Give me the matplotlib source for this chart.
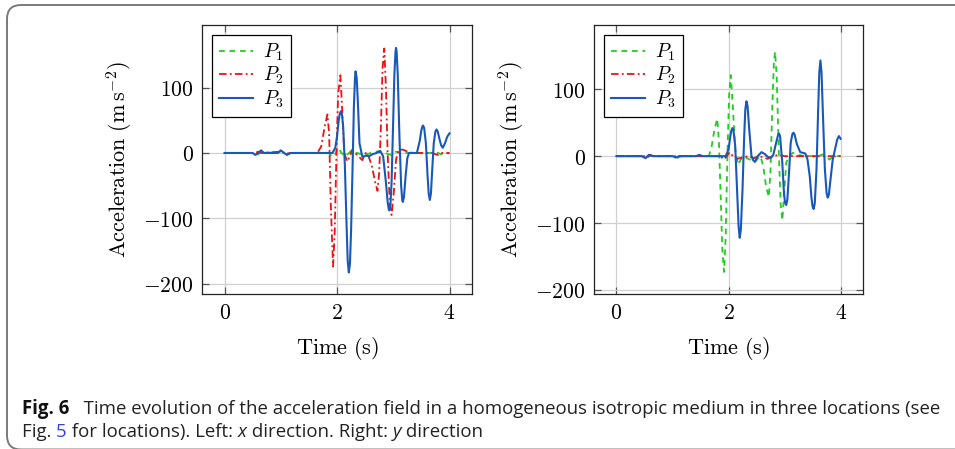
import matplotlib
matplotlib.use("Agg")
import matplotlib.pyplot as plt
from matplotlib.patches import FancyBboxPatch
from matplotlib.transforms import IdentityTransform

plt.rcParams['mathtext.fontset'] = 'cm'
plt.rcParams['font.family'] = ['DejaVu Serif']

# ---------------- data ----------------
# Left panel: x direction
tL_P1 = [0, 0.55, 0.6, 0.65, 0.7, 1.0, 1.1, 1.2, 1.85, 1.92, 1.98, 2.02, 2.08, 2.15, 2.25, 2.35,
         2.5, 2.6, 2.75, 2.85, 2.95, 3.05, 3.2, 3.8, 3.85, 4.0]
aL_P1 = [0, 0, -2, 2, 0, 2, -2, 0, 0, -6, 0, 8, 0, -5, 3, 0,
         -3, 0, 3, 0, -3, 2, 0, 0, -2, 0]

tL_P2 = [0, 0.55, 0.6, 0.65, 1.0, 1.1, 1.2, 1.65, 1.72, 1.78, 1.83, 1.86, 1.89, 1.93, 1.96, 1.99,
         2.02, 2.06, 2.09, 2.13, 2.18, 2.23, 2.27, 2.32, 2.38, 2.45, 2.51, 2.55, 2.62, 2.68, 2.72,
         2.75, 2.78, 2.81, 2.84, 2.87, 2.90, 2.94, 2.97, 3.01, 3.05, 3.10, 3.18, 3.25, 3.35, 3.7,
         3.75, 3.8, 3.85, 4.0]
aL_P2 = [0, 0, 2, 0, 2, -1, 0, 0, 10, 40, 59, 30, -80, -174, -120, 0,
         90, 119, 70, 0, -13, -5, 5, 0, -5, -11, 0, -2, -20, -45, -58,
         -30, 40, 130, 160, 100, 0, -80, -95, -60, -10, 5, 5, 2, 0, 0,
         -2, -3, 0, 0]

tL_P3 = [0, 0.50, 0.55, 0.60, 0.65, 0.70, 0.95, 1.00, 1.06, 1.11, 1.17, 1.92, 1.97, 2.00, 2.03,
         2.05, 2.07, 2.09, 2.11, 2.14, 2.17, 2.19, 2.21, 2.23, 2.25, 2.28, 2.30, 2.32, 2.33, 2.35,
         2.37, 2.40, 2.45, 2.51, 2.57, 2.63, 2.70, 2.77, 2.82, 2.87, 2.90, 2.92, 2.93, 2.95, 2.97,
         2.99, 3.02, 3.04, 3.05, 3.06, 3.08, 3.11, 3.14, 3.16, 3.17, 3.19, 3.22, 3.25, 3.28, 3.42,
         3.47, 3.50, 3.52, 3.53, 3.55, 3.58, 3.61, 3.63, 3.65, 3.67, 3.69, 3.72, 3.75, 3.77, 3.79,
         3.82, 3.85, 3.88, 3.92, 3.96, 4.0]
aL_P3 = [0, 0, -3, 0, 4, 0, 0, 4, 0, -3, 0, 0, 8, 25, 50,
         60, 64, 58, 40, -20, -110, -165, -183, -170, -120, -10, 70, 115, 125, 115,
         80, 15, -6, -4, -5, -2, 0, 3, -5, -45, -75, -86, -88, -80, -45,
         20, 120, 155, 161, 155, 120, 25, -50, -72, -75, -68, -35, -8, 0, 0,
         18, 35, 41, 42, 38, 15, -35, -62, -72, -62, -30, 15, 33, 36, 33,
         22, 12, 8, 15, 25, 30]

# Right panel: y direction
tR_P1 = [0, 0.45, 0.52, 0.6, 0.7, 1.0, 1.08, 1.15, 1.65, 1.70, 1.75, 1.80, 1.83, 1.86, 1.89,
         1.92, 1.95, 1.98, 2.01, 2.04, 2.08, 2.12, 2.17, 2.22, 2.27, 2.33, 2.40, 2.48, 2.53, 2.57,
         2.62, 2.67, 2.72, 2.75, 2.78, 2.81, 2.83, 2.86, 2.90, 2.93, 2.96, 2.99, 3.03, 3.08, 3.15,
         3.25, 3.35, 3.6, 3.7, 3.8, 3.88, 4.0]
aR_P1 = [0, 0, -3, 2, 0, 0, -3, 0, 0, 15, 40, 56, 20, -60, -140,
         -173, -120, 0, 90, 121, 70, 10, -13, -5, 0, -3, -6, -8, -3, 0,
         -15, -45, -61, -20, 70, 140, 156, 120, 0, -70, -96, -60, -10, 0, 5,
         2, 0, 0, 3, -5, 0, 0]

tR_P2 = [0, 0.5, 0.55, 0.6, 0.7, 1.85, 1.92, 1.97, 2.02, 2.08, 2.15, 2.25, 2.35, 2.45, 2.55,
         2.7, 2.8, 2.9, 3.0, 4.0]
aR_P2 = [0, 0, -2, 1, 0, 0, -5, 0, 6, 0, -4, -2, 0, -3, 0,
         -4, 0, 2, 0, 0]

tR_P3 = [0, 0.45, 0.52, 0.58, 0.65, 1.0, 1.06, 1.12, 1.42, 1.48, 1.54, 1.95, 2.0, 2.03, 2.05,
         2.07, 2.09, 2.12, 2.15, 2.18, 2.20, 2.22, 2.25, 2.28, 2.30, 2.32, 2.34, 2.37, 2.41, 2.44,
         2.47, 2.52, 2.59, 2.65, 2.70, 2.75, 2.80, 2.85, 2.88, 2.90, 2.92, 2.96, 2.99, 3.01, 3.03,
         3.05, 3.08, 3.11, 3.14, 3.16, 3.18, 3.22, 3.28, 3.37, 3.41, 3.45, 3.48, 3.50, 3.52, 3.54,
         3.57, 3.60, 3.62, 3.64, 3.66, 3.69, 3.72, 3.75, 3.77, 3.79, 3.82, 3.86, 3.90, 3.94, 3.97,
         4.0]
aR_P3 = [0, 0, -3, 2, 0, 0, -2, 0, 0, 2, 0, 0, 10, 28, 38,
         42, 38, 15, -45, -105, -122, -110, -50, 30, 70, 82, 75, 40, 0, -6,
         -8.5, 0, 6, 3, -1, -2.5, 2, 20, 30, 34, 30, -10, -55, -70, -73,
         -65, -25, 20, 33, 35, 32, 18, 6, 4, -5, -30, -62, -75, -79, -70,
         -20, 70, 125, 143, 125, 50, -20, -55, -62, -58, -35, -5, 10, 25, 30,
         26]

labels = [r'$P_1$', r'$P_2$', r'$P_3$']
x_ticks = [0, 2, 4]
y_ticks = [-200, -100, 0, 100]

c_green = '#22cc22'
c_red = '#ee1111'
c_blue = '#1858b8'

W, H = 955, 449
fig = plt.figure(figsize=(W / 100, H / 100), dpi=100)

# frame around figure (rounded corners, pixel coordinates)
frame = FancyBboxPatch((7, -0.5), 1100, H - 5 + 0.5,
                       boxstyle="round,pad=0,rounding_size=14",
                       transform=IdentityTransform(), fill=False,
                       edgecolor='#7a7a7a', linewidth=1.4)
fig.patches.append(frame)

def make_ax(rect, series, ylim):
    ax = fig.add_axes(rect)
    styles = [dict(color=c_green, ls=(0, (3.2, 2.6)), lw=1.3),
              dict(color=c_red, ls=(0, (4.2, 1.8, 1.0, 1.8)), lw=1.3),
              dict(color=c_blue, ls='-', lw=1.5)]
    for (t, a), st, lab in zip(series, styles, labels):
        ax.plot(t, a, label=lab, **st)
    ax.set_xlim(-0.4, 4.4)
    ax.set_ylim(*ylim)
    ax.set_xticks(x_ticks)
    ax.set_yticks(y_ticks)
    ax.set_xticklabels([f'${v}$' for v in x_ticks], fontsize=15.5)
    ax.set_yticklabels([f'${v}$' if v >= 0 else f'$-{-v}$' for v in y_ticks], fontsize=15.5)
    ax.grid(True, color='#d0d0d0', lw=0.9)
    ax.set_axisbelow(True)
    ax.tick_params(direction='in', length=5, width=0.9, color='#555555',
                   top=True, right=True, pad=6)
    for s in ax.spines.values():
        s.set_linewidth(0.9)
        s.set_color('#222222')
    ax.set_xlabel(r'$\mathrm{Time\ (s)}$', fontsize=16, labelpad=8)
    ax.set_ylabel(r'$\mathrm{Acceleration\ (m\,s^{-2})}$', fontsize=16, labelpad=6)
    leg = ax.legend(loc='upper left', fontsize=14, frameon=True, fancybox=False,
                    edgecolor='black', framealpha=1, handlelength=1.75,
                    handletextpad=0.55, labelspacing=0.12, borderpad=0.35,
                    borderaxespad=0.5)
    leg.get_frame().set_linewidth(0.9)
    return ax

axL = make_ax([202 / W, (H - 294) / H, 270 / W, 269 / H],
              [(tL_P1, aL_P1), (tL_P2, aL_P2), (tL_P3, aL_P3)], (-216, 196))
axR = make_ax([594 / W, (H - 294) / H, 269 / W, 269 / H],
              [(tR_P1, aR_P1), (tR_P2, aR_P2), (tR_P3, aR_P3)], (-206, 196))

# caption
fig.canvas.draw()
renderer = fig.canvas.get_renderer()
CAP_FAMILY = ['Open Sans']

def put_pieces(x0, y, pieces, size, draw=True):
    x = x0
    made = []
    for txt, kw in pieces:
        t = fig.text(x / W, 1 - y / H, txt, va='baseline', ha='left',
                     family=CAP_FAMILY, fontsize=size, **kw)
        bb = t.get_window_extent(renderer)
        x += bb.width
        made.append(t)
    if not draw:
        for t in made:
            t.remove()
    return x

line1 = [('Fig. 6', dict(weight='bold', color='#111111')),
         ('   Time evolution of the acceleration field in a homogeneous isotropic medium in three locations (see',
          dict(color='#222222'))]
line2 = [('Fig. ', dict(color='#222222')),
         ('5', dict(color='#3344dd')),
         (' for locations). Left: ', dict(color='#222222')),
         ('x', dict(style='italic', color='#222222')),
         (' direction. Right: ', dict(color='#222222')),
         ('y', dict(style='italic', color='#222222')),
         (' direction', dict(color='#222222'))]

# fit the first caption line to the width it has in the reference (22 -> 935 px)
trial = 12.0
end = put_pieces(22, 414, line1, trial, draw=False)
size = trial * (935 - 22) / (end - 22)
put_pieces(22, 414, line1, size)
put_pieces(22, 437, line2, size)

fig.savefig('out.png', dpi=100)
